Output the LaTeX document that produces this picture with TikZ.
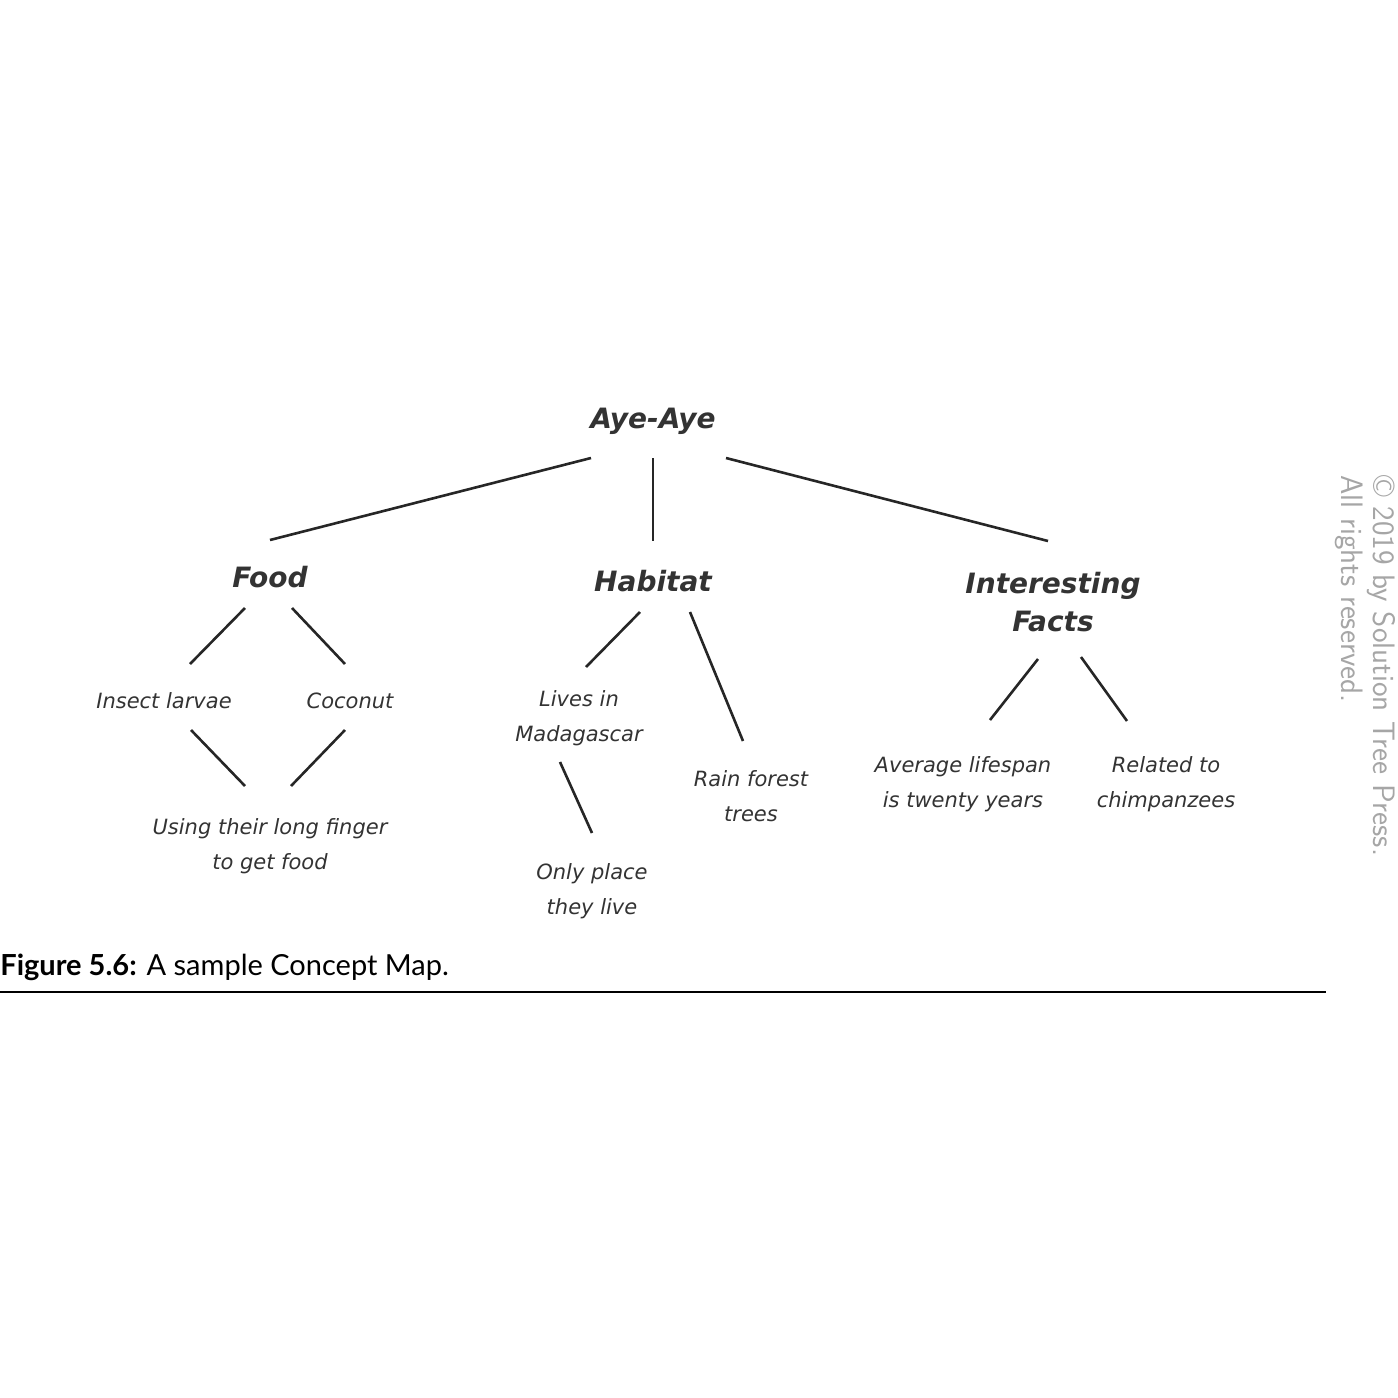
\documentclass[tikz,border=0pt]{standalone}
\usepackage{fontspec}
\setmainfont{DejaVu Sans}
\newfontfamily\capfont{Lato}
\begin{document}
\begin{tikzpicture}[x=0.5pt,y=-0.5pt,
  big/.style={font=\fontsize{14}{19}\selectfont\bfseries\itshape,text=black!80,align=center},
  small/.style={font=\fontsize{10.5}{17.5}\selectfont\itshape,text=black!80,align=center},
  ln/.style={line width=1.3pt,black!85}]
\useasboundingbox (0,0) rectangle (1398,1398);
\node[big] (aye) at (653,421) {Aye-Aye};
\node[big] (food) at (270,577) {Food};
\node[big] (hab) at (653,581) {Habitat};
\node[big] (int) at (1053,602) {Interesting\\Facts};
\node[small] (ins) at (164,701) {Insect larvae};
\node[small] (coc) at (350,701) {Coconut};
\node[small] (use) at (270,846) {Using their long finger\\to get food};
\node[small] (liv) at (579,718) {Lives in\\Madagascar};
\node[small] (only) at (592,891) {Only place\\they live};
\node[small] (rain) at (751,796) {Rain forest\\trees};
\node[small] (avg) at (963,784) {Average lifespan\\is twenty years};
\node[small] (rel) at (1166,784) {Related to\\chimpanzees};
\foreach \n/\a/\b in {a1/591/458,a2/270/540,b1/653/458,b2/653/541,c1/726/458,c2/1048/541,
 d1/245/608,d2/190/664,e1/292/608,e2/345/664,f1/191/730,f2/245/786,g1/345/730,g2/291/786,
 h1/640/612,h2/586/667,i1/690/612,i2/743/741,j1/560/762,j2/592/833,
 k1/1038/659,k2/990/720,l1/1081/657,l2/1127/721}
  \coordinate (\n) at (\a,\b);
\foreach \p in {a,b,c,d,e,f,g,h,i,j,k,l} \draw[ln] (\p1) -- (\p2);
\node[anchor=west,inner sep=0,font=\capfont\fontsize{14.5}{16}\selectfont] (cap) at (0,967) {\textbf{Figure 5.6:} A sample Concept Map.};
\coordinate (r1) at (0,992); \coordinate (r2) at (1326,992);
\draw[line width=0.6pt] (r1) -- (r2);
\node[rotate=-90,anchor=west,inner sep=0,text=black!35,font=\fontsize{15.5}{17}\selectfont\sffamily] (w1) at (1381,475) {© 2019 by Solution Tree Press.};
\node[rotate=-90,anchor=west,inner sep=0,text=black!35,font=\fontsize{15.5}{17}\selectfont\sffamily] (w2) at (1349,475) {All rights reserved.};
\end{tikzpicture}
\end{document}
